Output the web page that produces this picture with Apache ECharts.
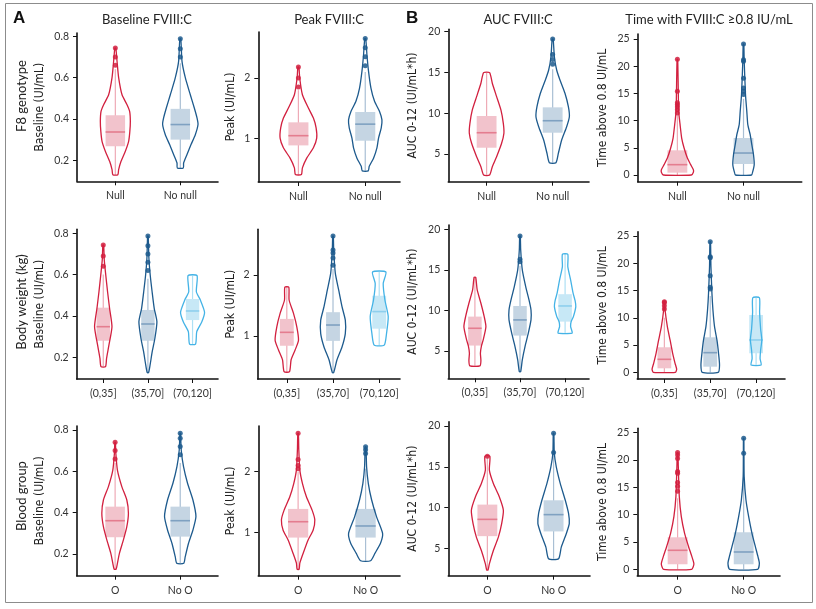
<!DOCTYPE html>
<html>
<head>
<meta charset="utf-8">
<script src="https://cdn.jsdelivr.net/npm/echarts@6/dist/echarts.min.js"></script>
<style>
    html, body { margin: 0; padding: 0; background: #fff; }
    #chart { width: 816px; height: 609px; }
</style>
</head>
<body>
<div id="chart"></div>
<script>
(() => {
    'use strict'

    // categories
    const f8Cats = ['Null', 'No null']
    const weightCats = ['(0,35]', '(35,70]', '(70,120]']
    const bloodCats = ['O', 'No O']

    // tick labels
    const baselineTicks = [0.2, 0.4, 0.6, 0.8]
    const peakTicks = [1, 2]
    const aucTicks = [5, 10, 15, 20]
    const timeTicks = [0, 5, 10, 15, 20, 25]

    // violin profiles: [value, half density] from bottom to top
    // boxes: [whisker low, Q1, median, Q3, whisker high]
    const baselineF8Profiles = [
        [[0.13,2.5],[0.155,3.3],[0.195,5.7],[0.244,10],[0.292,13.3],[0.34,14.5],[0.389,15],[0.437,14.3],[0.469,11.7],[0.517,6.7],[0.6,3.3],[0.679,1.7],[0.743,0.5]],
        [[0.163,3],[0.187,3.3],[0.228,6.7],[0.276,10.7],[0.324,15],[0.373,17.7],[0.405,16.7],[0.453,14],[0.517,10],[0.6,5],[0.679,1.7],[0.788,0.5]]
    ]
    const baselineF8Boxes = [[0.13,0.268,0.337,0.418,0.64], [0.163,0.30,0.373,0.449,0.67]]
    const baselineF8Outliers = [[0.66,0.70,0.743], [0.70,0.74,0.788]]

    const peakF8Profiles = [
        [[0.41,3],[0.52,4],[0.68,8.3],[0.85,15],[1.01,18.3],[1.18,17.7],[1.34,15],[1.505,10],[1.725,4],[2.0,1.3],[2.18,0.5]],
        [[0.47,3],[0.545,4],[0.68,8.3],[0.85,11.7],[1.01,13.3],[1.18,16],[1.31,16.7],[1.45,14.3],[1.616,9.3],[1.835,5.7],[2.11,3.3],[2.38,1.7],[2.65,0.5]]
    ]
    const peakF8Boxes = [[0.41,0.89,1.05,1.27,1.8], [0.47,0.967,1.24,1.44,2.1]]
    const peakF8Outliers = [[1.85,2.0,2.18], [2.2,2.35,2.5,2.65]]

    const aucF8Profiles = [
        [[2.42,3],[3.44,5.7],[4.67,10],[6.31,15],[7.54,17.3],[8.76,16.7],[10.4,14.3],[12.03,10],[13.67,5.7],[14.97,3]],
        [[3.93,3.3],[5.09,5.7],[6.72,9],[8.35,14],[9.57,16.7],[10.8,15.7],[12.44,12.3],[14.07,7.3],[15.3,4],[16.93,1.7],[19.1,0.5]]
    ]
    const aucF8Boxes = [[2.42,5.77,7.61,9.66,14.97], [3.93,7.61,9.08,10.72,15.4]]
    const aucF8Outliers = [[], [16.0,16.6,17.2,19.1]]

    const timeF8Profiles = [
        [[0,14],[0.5,16],[0.98,16],[1.9,13.3],[3.12,10],[4.96,6.7],[6.8,4.3],[9.25,2.7],[11.7,1.3],[17.8,0.7],[21.3,0.3]],
        [[0,8],[0.67,9.3],[1.9,10.7],[3.73,10],[5.57,8.3],[7.4,6.7],[9.25,4.3],[11.7,3.3],[14.76,2],[20.9,0.7],[24.1,0.3]]
    ]
    const timeF8Boxes = [[0,0.43,1.9,4.54,11], [0,2.02,4.04,6.8,14]]
    const timeF8Outliers = [[11.4,12.0,12.5,12.9,13.3,15.4,21.3], [14.8,15.4,16.0,17.8,20.9,21.2,24.1]]

    const baselineWeightProfiles = [
        [[0.155,2.3],[0.195,3.3],[0.26,5.7],[0.348,8.7],[0.437,6.3],[0.517,4.3],[0.598,2.5],[0.671,1],[0.743,0.4]],
        [[0.126,0.7],[0.163,2.2],[0.227,4.3],[0.292,7],[0.372,9],[0.437,6.3],[0.517,4.2],[0.598,2.3],[0.679,1],[0.787,0.3]],
        [[0.264,3],[0.324,4.2],[0.372,9.3],[0.418,12],[0.477,7.8],[0.517,3.8],[0.595,4.5]]
    ]
    const baselineWeightBoxes = [[0.155,0.28,0.348,0.44,0.6], [0.126,0.28,0.361,0.429,0.58], [0.264,0.38,0.424,0.482,0.595]]
    const baselineWeightOutliers = [[0.64,0.69,0.743], [0.62,0.66,0.70,0.74,0.787], []]

    const peakWeightProfiles = [
        [[0.415,2.7],[0.61,4.3],[0.77,8.3],[0.93,11.7],[1.15,10],[1.37,6.7],[1.59,2.3],[1.8,2]],
        [[0.4,0.7],[0.61,4],[0.82,9],[1.04,12.3],[1.26,12.3],[1.48,9],[1.75,5.7],[2.03,2.3],[2.41,0.7],[2.64,0.3]],
        [[0.85,5],[1.04,7.3],[1.32,9],[1.59,5.7],[1.86,4],[2.05,6.7]]
    ]
    const peakWeightBoxes = [[0.415,0.84,1.06,1.28,1.8], [0.4,0.92,1.18,1.39,2.1], [0.85,1.12,1.4,1.66,2.05]]
    const peakWeightOutliers = [[], [2.16,2.28,2.36,2.41,2.64], []]

    const aucWeightProfiles = [
        [[3.16,5],[3.8,6],[4.73,5.5],[5.6,6.5],[6.37,8.3],[8.0,11],[9.24,9.3],[10.89,6],[12.52,2.3],[14.09,0.8]],
        [[2.46,0.7],[3.9,2.3],[5.54,5],[7.19,8.3],[8.83,11],[10.06,11],[11.29,9],[12.93,5.7],[14.99,2.3],[17.45,0.7],[19.17,0.3]],
        [[7.19,7],[7.6,6.5],[8.0,5.5],[8.6,6],[9.24,8.3],[10.47,10.7],[11.2,10],[12.12,8],[13.76,5.5],[15.4,2.7],[16.92,2.7]]
    ]
    const aucWeightBoxes = [[3.16,5.67,7.8,9.24,14.09], [2.46,6.9,8.83,10.55,15.5], [7.19,8.62,10.55,12.0,16.92]]
    const aucWeightOutliers = [[], [16.0,16.3,19.17], []]

    const timeWeightProfiles = [
        [[0,11],[0.55,12.3],[1.65,10.7],[3.49,8.3],[5.93,5.7],[8.37,3],[11.43,0.7],[12.96,0.3]],
        [[0,8],[1.34,9.3],[3.49,8.3],[5.93,6.7],[8.37,4.3],[11.43,2.7],[14.5,1.7],[19.4,0.7],[23.96,0.3]],
        [[1.34,5],[2.5,4],[4,4.5],[5.93,5.7],[8,4.5],[11,3.5],[13.69,3.3]]
    ]
    const timeWeightBoxes = [[0,0.73,2.38,4.59,10], [0,1.03,3.6,6.42,14], [1.34,3.49,5.93,10.51,13.69]]
    const timeWeightOutliers = [[11.6,12.2,12.8,12.96], [15.3,15.6,17.7,21.0,21.2,23.96], []]

    const baselineBloodProfiles = [
        [[0.127,1],[0.155,2.3],[0.203,4.3],[0.268,8.3],[0.332,11.7],[0.397,13.3],[0.461,11.7],[0.526,6.7],[0.606,2.3],[0.687,0.7],[0.74,0.3]],
        [[0.155,3.5],[0.187,5],[0.252,8.3],[0.316,12.7],[0.381,15.7],[0.461,12.7],[0.542,7.3],[0.622,3.3],[0.703,1],[0.784,0.3]]
    ]
    const baselineBloodBoxes = [[0.127,0.281,0.361,0.429,0.64], [0.155,0.284,0.361,0.429,0.64]]
    const baselineBloodOutliers = [[0.66,0.70,0.74], [0.68,0.72,0.76,0.784]]

    const peakBloodProfiles = [
        [[0.4,1],[0.5,1.7],[0.66,5],[0.88,10],[1.04,15],[1.21,16.7],[1.37,14],[1.59,8.3],[1.81,4.3],[2.03,1.7],[2.36,0.7],[2.63,0.3]],
        [[0.54,5],[0.66,9.3],[0.83,15],[0.99,17],[1.26,11],[1.54,6],[1.81,2.7],[2.08,1],[2.41,0.4]]
    ]
    const peakBloodBoxes = [[0.4,0.92,1.18,1.39,2.0], [0.54,0.92,1.11,1.39,2.05]]
    const peakBloodOutliers = [[2.05,2.1,2.2,2.63], [2.3,2.36,2.41]]

    const aucBloodProfiles = [
        [[2.35,0.7],[3.09,2],[4.73,6],[6.37,11],[8.02,14.3],[9.66,16],[11.29,12],[12.94,6],[14.58,2],[16.3,2.5]],
        [[3.71,5],[5.14,7.7],[6.79,12.7],[8.02,15.7],[9.25,15],[10.89,11.7],[12.94,6.7],[14.99,2.7],[16.7,0.7],[19.1,0.3]]
    ]
    const aucBloodBoxes = [[2.35,6.49,8.55,10.36,16.2], [3.71,7.07,9.13,10.89,16.5]]
    const aucBloodOutliers = [[16.3], [16.76,19.1]]

    const timeBloodProfiles = [
        [[0,14],[0.97,16.3],[2.31,14.3],[4.14,11],[6.59,7],[9.63,3.7],[13.3,1.7],[18.8,0.7],[21.36,0.3]],
        [[0,14],[1.1,15.7],[2.31,14.3],[4.14,11.7],[6.59,8.3],[9.63,5],[12.69,2.3],[16.96,0.5],[21.25,0.3],[24.0,0.2]]
    ]
    const timeBloodBoxes = [[0,0.92,3.48,5.86,13], [0,0.92,3.17,6.78,16.9]]
    const timeBloodOutliers = [[14.3,15.2,15.9,17.6,17.9,20.3,20.9,21.36], [21.25,24.0]]

    const colTitles = ['Baseline FVIII:C', 'Peak FVIII:C', 'AUC FVIII:C', 'Time with FVIII:C \u22650.8 IU/mL']
    const rowTitles = ['F8 genotype', 'Body weight (kg)', 'Blood group']
    const yNames = ['Baseline (UI/mL)', 'Peak (UI/mL)', 'AUC 0-12 (UI/mL*h)', 'Time above 0.8 UI/mL']

    const COLORS = [
        {line: '#d2203f', box: '#f2c3cc', med: '#e47d8f', whisk: '#eeaab6'},
        {line: '#1d5a8d', box: '#c5d5e3', med: '#7fa1c1', whisk: '#a9bfd4'},
        {line: '#44b3e6', box: '#c7e8f6', med: '#8ecfed', whisk: '#ade0f4'}
    ]
    const FONT = 'Lato, "Open Sans", sans-serif'
    const NARROW = '"Liberation Sans Narrow", "DejaVu Sans Condensed", Lato, sans-serif'
    const BOX_WIDTH = 0.3

    // layout: grid [left, right, top, bottom] in px, x range, y range
    const panels = [
        {cats: f8Cats, ticks: baselineTicks, prof: baselineF8Profiles, box: baselineF8Boxes, out: baselineF8Outliers, grid: [77, 218, 33, 181.3], x: [0.41, 2.58], y: [0.0984, 0.816]},
        {cats: f8Cats, ticks: peakTicks, prof: peakF8Profiles, box: peakF8Boxes, out: peakF8Outliers, grid: [258.3, 400, 32, 182], x: [0.40, 2.52], y: [0.287, 2.758]},
        {cats: f8Cats, ticks: aucTicks, prof: aucF8Profiles, box: aucF8Boxes, out: aucF8Outliers, grid: [448.3, 589, 29.3, 181.7], x: [0.42, 2.55], y: [1.603, 20.29]},
        {cats: f8Cats, ticks: timeTicks, prof: timeF8Profiles, box: timeF8Boxes, out: timeF8Outliers, grid: [637.7, 801.7, 34, 181.7], x: [0.40, 2.88], y: [-1.23, 25.92]},
        {cats: weightCats, ticks: baselineTicks, prof: baselineWeightProfiles, box: baselineWeightBoxes, out: baselineWeightOutliers, grid: [76.7, 218, 229.3, 379], x: [0.405, 3.57], y: [0.095, 0.819]},
        {cats: weightCats, ticks: peakTicks, prof: peakWeightProfiles, box: peakWeightBoxes, out: peakWeightOutliers, grid: [257.7, 400, 229.3, 379], x: [0.37, 3.45], y: [0.295, 2.749]},
        {cats: weightCats, ticks: aucTicks, prof: aucWeightProfiles, box: aucWeightBoxes, out: aucWeightOutliers, grid: [448.3, 589, 225, 378.3], x: [0.41, 3.53], y: [1.635, 20.53]},
        {cats: weightCats, ticks: timeTicks, prof: timeWeightProfiles, box: timeWeightBoxes, out: timeWeightOutliers, grid: [637.3, 785, 231.7, 379], x: [0.41, 3.63], y: [-1.229, 25.79]},
        {cats: bloodCats, ticks: baselineTicks, prof: baselineBloodProfiles, box: baselineBloodBoxes, out: baselineBloodOutliers, grid: [76.7, 218, 426, 575.7], x: [0.41, 2.58], y: [0.095, 0.819]},
        {cats: bloodCats, ticks: peakTicks, prof: peakBloodProfiles, box: peakBloodBoxes, out: peakBloodOutliers, grid: [258.3, 400, 426, 575.7], x: [0.41, 2.51], y: [0.295, 2.749]},
        {cats: bloodCats, ticks: aucTicks, prof: aucBloodProfiles, box: aucBloodBoxes, out: aucBloodOutliers, grid: [448.3, 590, 421.7, 575.7], x: [0.41, 2.55], y: [1.639, 20.53]},
        {cats: bloodCats, ticks: timeTicks, prof: timeBloodProfiles, box: timeBloodBoxes, out: timeBloodOutliers, grid: [637.3, 780, 428.3, 575.7], x: [0.39, 2.55], y: [-1.171, 25.81]}
    ]

    const colNameX = [40, 231, 413, 603]
    const titleX = [147, 329, 518, 709]
    const rowLabelY = [96, 302, 496]

    const axisLine = {show: true, onZero: false, lineStyle: {color: '#111', width: 1.6}}
    const grids = [], xAxes = [], yAxes = [], series = []
    const graphics = [
        {type: 'rect', shape: {x: 5.5, y: 3.5, width: 807, height: 599}, style: {fill: 'none', stroke: '#8c8c8c', lineWidth: 1}},
        {type: 'text', x: 13, y: 18, style: {text: 'A', font: 'bold 17px "Liberation Sans", Arial, sans-serif', fill: '#111', verticalAlign: 'middle'}},
        {type: 'text', x: 406, y: 18, style: {text: 'B', font: 'bold 17px "Liberation Sans", Arial, sans-serif', fill: '#111', verticalAlign: 'middle'}}
    ]

    colTitles.forEach((t, c) => {
        graphics.push({type: 'text', x: titleX[c], y: 20, style: {text: t, font: '13px ' + FONT, fill: '#222', align: 'center', verticalAlign: 'middle'}})
    })
    rowTitles.forEach((t, r) => {
        graphics.push({type: 'text', x: 21.5, y: rowLabelY[r], rotation: Math.PI / 2, style: {text: t, font: '13px ' + FONT, fill: '#222', align: 'center', verticalAlign: 'middle'}})
    })

    panels.forEach((p, i) => {
        const [l, r, t, b] = p.grid
        const catPos = p.cats.map((c, j) => j + 1)
        grids.push({left: l, top: t, width: r - l, height: b - t})

        xAxes.push({
            gridIndex: i, type: 'value', min: p.x[0], max: p.x[1],
            axisLine: axisLine,
            axisTick: {show: true, length: 4, customValues: catPos, lineStyle: {color: '#111', width: 1}},
            axisLabel: {customValues: catPos, margin: 9, fontSize: 10.5, color: '#333', fontFamily: FONT, formatter: v => p.cats[Math.round(v) - 1]},
            splitLine: {show: false}
        })
        yAxes.push({
            gridIndex: i, type: 'value', min: p.y[0], max: p.y[1],
            axisLine: axisLine,
            axisTick: {show: true, length: 4, customValues: p.ticks, lineStyle: {color: '#111', width: 1}},
            axisLabel: {customValues: p.ticks, margin: 8, fontSize: 10.5, color: '#333', fontFamily: FONT},
            splitLine: {show: false}
        })

        graphics.push({
            type: 'text', x: colNameX[i % 4], y: (t + b) / 2, rotation: Math.PI / 2,
            style: {text: yNames[i % 4], font: '12px ' + NARROW, fill: '#222', align: 'center', verticalAlign: 'middle'}
        })

        series.push({
            type: 'custom',
            xAxisIndex: i,
            yAxisIndex: i,
            silent: true,
            data: catPos.map(pos => [pos]),
            renderItem: (params, api) => {
                const j = params.dataIndex
                const pos = api.value(0)
                const col = COLORS[j]
                const c = v => api.coord([pos, v])
                const right = p.prof[j].map(([v, w]) => { const pt = c(v); return [pt[0] + w, pt[1]] })
                const left = p.prof[j].slice().reverse().map(([v, w]) => { const pt = c(v); return [pt[0] - w, pt[1]] })
                const [lo, q1, med, q3, hi] = p.box[j].map(c)
                const cx = lo[0]
                const bw = api.size([BOX_WIDTH, 0])[0] / 2
                return {
                    type: 'group',
                    children: [
                        {type: 'line', shape: {x1: cx, y1: lo[1], x2: cx, y2: hi[1]}, style: {stroke: col.whisk, lineWidth: 1.2}},
                        {type: 'rect', shape: {x: cx - bw, y: q3[1], width: bw * 2, height: q1[1] - q3[1]}, style: {fill: col.box}},
                        {type: 'line', shape: {x1: cx - bw, y1: med[1], x2: cx + bw, y2: med[1]}, style: {stroke: col.med, lineWidth: 1.6}},
                        {type: 'polygon', shape: {points: right.concat(left), smooth: 0.2}, style: {fill: 'none', stroke: col.line, lineWidth: 1.3}}
                    ]
                }
            }
        })

        series.push({
            type: 'scatter',
            xAxisIndex: i,
            yAxisIndex: i,
            silent: true,
            symbolSize: 5,
            data: p.out.flatMap((vals, j) => vals.map(v => ({value: [j + 1, v], itemStyle: {color: COLORS[j].line, opacity: 0.85}})))
        })
    })

    const chart = echarts.init(document.getElementById('chart'), null, {renderer: 'canvas'})
    chart.setOption({
        animation: false,
        backgroundColor: '#fff',
        grid: grids,
        xAxis: xAxes,
        yAxis: yAxes,
        series: series,
        graphic: graphics
    })
})()
</script>
</body>
</html>
